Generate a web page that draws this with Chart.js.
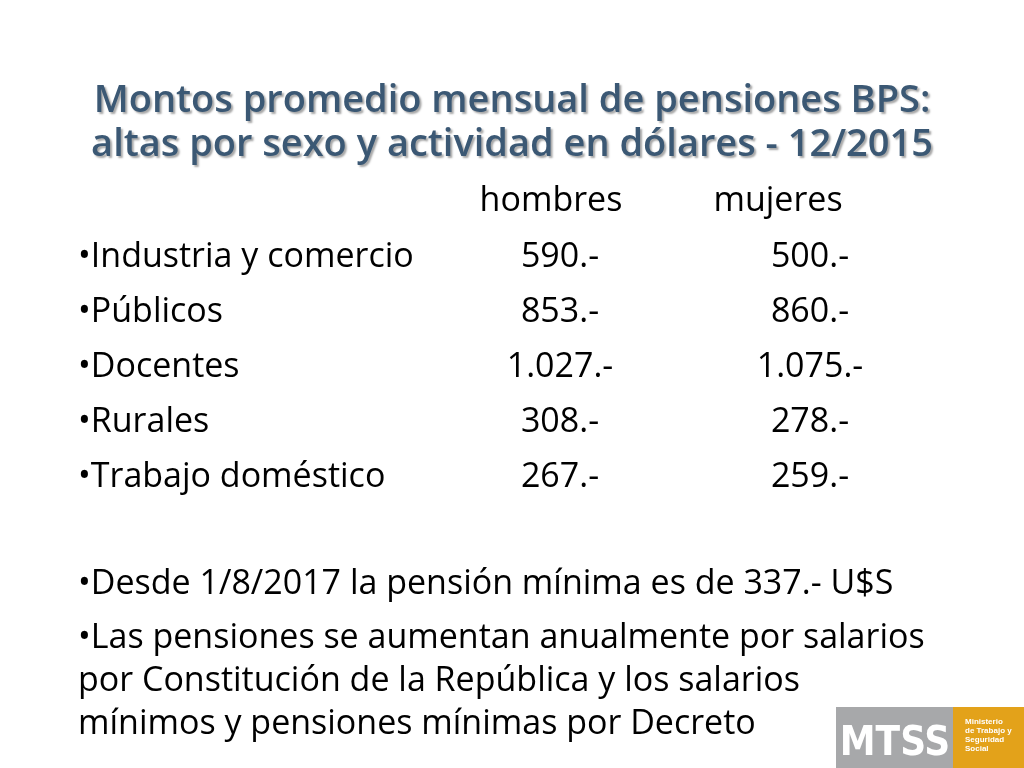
<!DOCTYPE html>
<html>
<head>
<meta charset="utf-8">
<script src="https://cdn.jsdelivr.net/npm/chart.js@4/dist/chart.umd.min.js"></script>
<style>
  html, body { margin: 0; padding: 0; background: #fff; overflow: hidden; }
</style>
</head>
<body>
<canvas id="slide" width="1024" height="768"></canvas>
<script>
// Datos de la diapositiva
const titleLines = ["Montos promedio mensual de pensiones BPS:", "altas por sexo y actividad en dólares - 12/2015"];
const columns = ["hombres", "mujeres"];
const sectors = ["Industria y comercio", "Públicos", "Docentes", "Rurales", "Trabajo doméstico"];
const hombres = ["590.-", "853.-", "1.027.-", "308.-", "267.-"];
const mujeres = ["500.-", "860.-", "1.075.-", "278.-", "259.-"];
const notes = [
    ["Desde 1/8/2017 la pensión mínima es de 337.- U$S"],
    ["Las pensiones se aumentan anualmente por salarios", "por Constitución de la República y los salarios", "mínimos y pensiones mínimas por Decreto"]
];
const logoText = "MTSS";
const logoSub = ["Ministerio", "de Trabajo y", "Seguridad", "Social"];

const FONT = "'Open Sans', 'Liberation Sans', sans-serif";

/* Plugin que escribe el texto usando las escalas del gráfico */
const slideText = {
    id: "slideText",
    afterDraw(chart) {
        const ctx = chart.ctx;
        const sx = v => chart.scales.x.getPixelForValue(v);
        const sy = v => chart.scales.y.getPixelForValue(v);

        // Título con sombra
        ctx.save();
        ctx.textAlign = "center";
        ctx.textBaseline = "alphabetic";
        ctx.font = "600 38px " + FONT;
        ctx.shadowColor = "rgba(0,0,0,0.35)";
        ctx.shadowOffsetX = 2;
        ctx.shadowOffsetY = 2;
        ctx.shadowBlur = 2;
        ctx.fillStyle = "#3b5874";
        titleLines.forEach((t, i) => ctx.fillText(t, sx(512), sy(112 + i * 44)));
        ctx.restore();

        ctx.save();
        ctx.fillStyle = "#000";
        ctx.font = "34px " + FONT;
        ctx.textBaseline = "alphabetic";

        // Encabezados
        ctx.textAlign = "center";
        ctx.fillText(columns[0], sx(551), sy(211));
        ctx.fillText(columns[1], sx(778), sy(211));

        // Filas
        sectors.forEach((s, i) => {
            const y = sy(267 + i * 55);
            ctx.textAlign = "left";
            ctx.fillText("•" + s, sx(78), y);
            ctx.textAlign = "center";
            ctx.fillText(hombres[i], sx(560), y);
            ctx.fillText(mujeres[i], sx(810), y);
        });

        // Notas
        ctx.textAlign = "left";
        let y = 594;
        notes.forEach(par => {
            par.forEach((line, j) => {
                ctx.fillText((j === 0 ? "•" : "") + line, sx(78), sy(y));
                y += 43;
            });
            y += 11;
        });
        ctx.restore();

        // Logo MTSS
        ctx.save();
        ctx.fillStyle = "#a7a8aa";
        ctx.fillRect(sx(836), sy(707), sx(953) - sx(836), sy(768) - sy(707));
        ctx.fillStyle = "#e3a21a";
        ctx.fillRect(sx(953), sy(707), sx(1024) - sx(953), sy(768) - sy(707));
        ctx.fillStyle = "#fff";
        ctx.textAlign = "center";
        ctx.font = "bold 40px 'Liberation Sans Narrow', 'DejaVu Sans Condensed', sans-serif";
        ctx.fillText(logoText, sx(895), sy(755));
        ctx.textAlign = "left";
        ctx.font = "bold 8px 'Liberation Sans', sans-serif";
        logoSub.forEach((t, i) => ctx.fillText(t, sx(965), sy(724 + i * 9)));
        ctx.restore();
    }
};

new Chart(document.getElementById("slide"), {
    type: "scatter",
    data: { datasets: [{ data: [] }] },
    options: {
        responsive: false,
        animation: false,
        layout: { padding: 0 },
        plugins: { legend: { display: false }, tooltip: { enabled: false } },
        scales: {
            x: { type: "linear", min: 0, max: 1024, display: false },
            y: { type: "linear", min: 0, max: 768, reverse: true, display: false }
        }
    },
    plugins: [slideText]
});
</script>
</body>
</html>
